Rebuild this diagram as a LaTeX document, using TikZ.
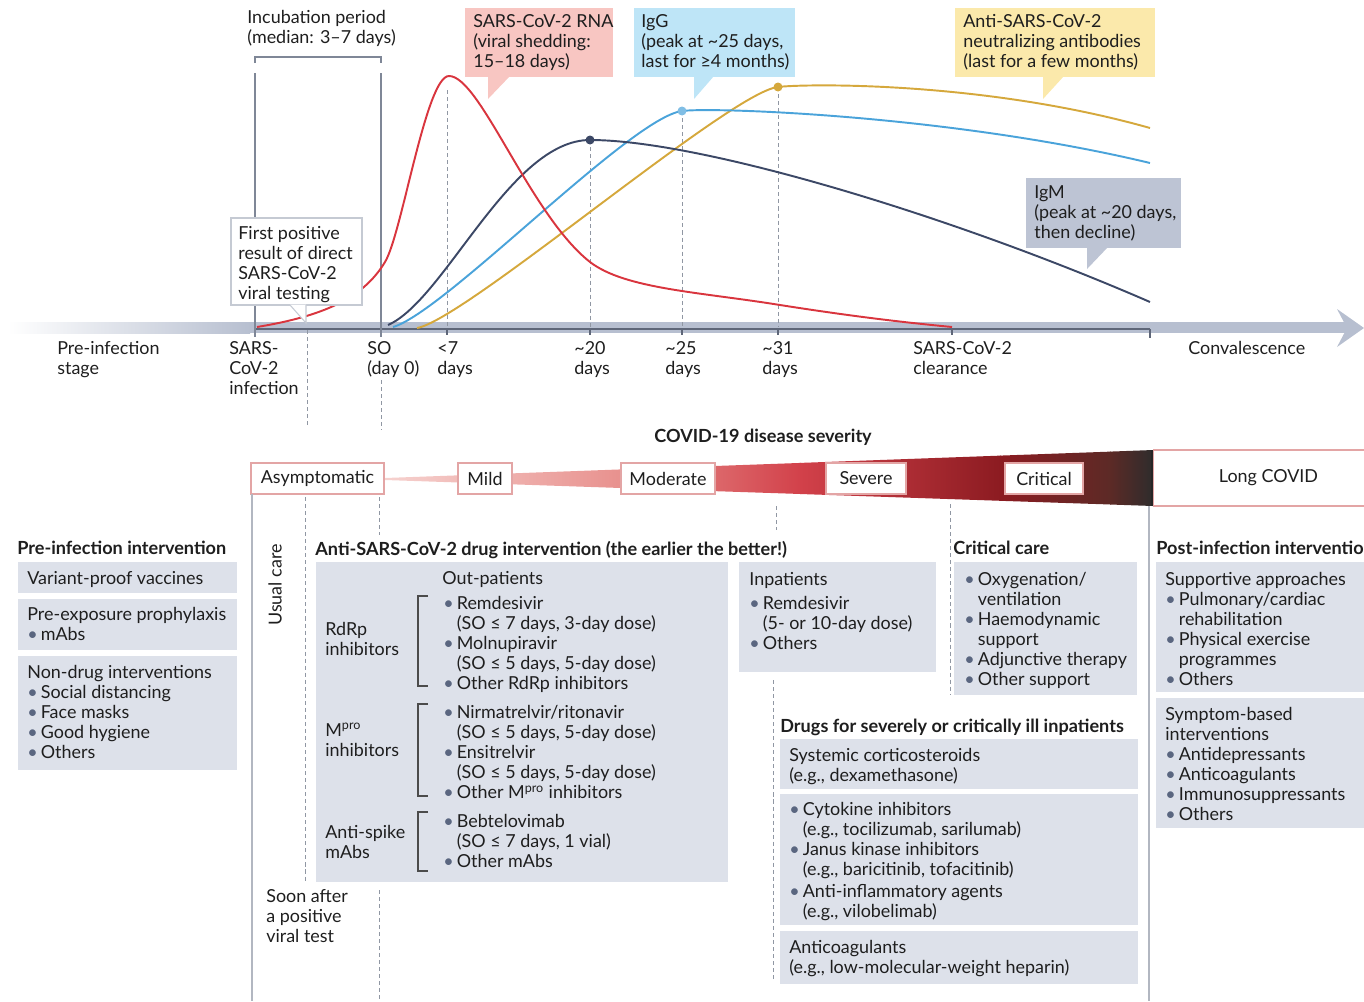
\documentclass[tikz,border=0pt]{standalone}
\usepackage{fontspec}
\setmainfont{Lato}
\usetikzlibrary{positioning}
\definecolor{txtcol}{HTML}{1E1E1E}
\definecolor{bandcol}{HTML}{B7BFD0}
\definecolor{axiscol}{HTML}{5E6678}
\definecolor{vcol}{HTML}{7F8797}
\definecolor{dashcol}{HTML}{9097A3}
\definecolor{redc}{HTML}{D9353E}
\definecolor{navyc}{HTML}{3C4866}
\definecolor{bluec}{HTML}{4AA3DA}
\definecolor{goldc}{HTML}{D5A83C}
\definecolor{pinkbox}{HTML}{F8C6C2}
\definecolor{bluebox}{HTML}{BEE5F7}
\definecolor{yelbox}{HTML}{FBE9AB}
\definecolor{igmbox}{HTML}{BDC4D4}
\definecolor{panel}{HTML}{DDE1EA}
\definecolor{sevline}{HTML}{E3A5A5}
\definecolor{bulcol}{HTML}{5A6680}
\definecolor{calline}{HTML}{C5CAD3}
\definecolor{sevA}{HTML}{F6D2CF}
\definecolor{sevB}{HTML}{E8918E}
\definecolor{sevC}{HTML}{D2414A}
\definecolor{sevD}{HTML}{8C1B21}
\definecolor{sevE}{HTML}{5C2A26}
\definecolor{sevF}{HTML}{2E2C2C}
\newcommand{\bul}{\makebox[0.27cm][l]{\textcolor{bulcol}{\textbullet}}}
\newcommand{\ind}{\hspace*{0.27cm}}
\newcommand{\Mpro}{M\textsuperscript{pro}}
\tikzset{
  txt/.style={font=\fontsize{10.2}{11.4}\selectfont, text=txtcol, inner sep=0pt, align=left, anchor=north west},
  hd/.style={txt, font=\fontsize{10.3}{11.4}\selectfont\bfseries},
  sevbox/.style={draw=sevline, fill=white, line width=0.6pt, minimum height=0.62cm, inner sep=0pt,
    font=\fontsize{10.2}{11.4}\selectfont, text=txtcol},
  curve/.style={line width=1.1pt},
  guide/.style={dashcol, line width=0.5pt, dash pattern=on 2.3pt off 1.7pt},
}
\begin{document}
\begin{tikzpicture}[x=0.02cm,y=-0.02cm]
\useasboundingbox (0,0) rectangle (1364,1001);
% time axis
\shade[left color=white, right color=bandcol] (8,322) rectangle (250,333);
\fill[bandcol] (249,322) rectangle (1348,333);
\fill[bandcol] (1337,309) -- (1364,328) -- (1337,347) -- (1347,328) -- cycle;
\draw[axiscol, line width=0.8pt] (255,329) -- (1150,329);
\foreach \t in {447,590,682,778,952} \draw[axiscol, line width=0.8pt] (\t,329) -- (\t,335);
\draw[axiscol, line width=0.8pt] (1150,329) -- (1150,338);
% incubation bracket
\draw[vcol, line width=0.6pt] (255,63) -- (255,57) -- (381,57) -- (381,63);
\draw[vcol, line width=0.8pt] (255,73) -- (255,337);
\draw[vcol, line width=0.8pt] (381,73) -- (381,337);
\foreach \t/\y in {447/90,590/140,682/111,778/87} \draw[guide] (\t,\y) -- (\t,327);
\draw[guide] (307,330) -- (307,425);
\draw[guide] (381,380) -- (381,430);
% curves
\draw[curve, goldc] (417,328) .. controls (465,320) and (730,92) .. (778,87)
  .. controls (800,84) and (980,80) .. (1150,128);
\draw[curve, bluec] (393,327) .. controls (445,312) and (630,118) .. (682,111)
  .. controls (712,107) and (950,115) .. (1150,163);
\draw[curve, navyc] (388,325) .. controls (445,300) and (510,140) .. (590,140)
  .. controls (700,140) and (950,215) .. (1150,302);
\draw[curve, redc] (257,327) .. controls (330,315) and (365,295) .. (385,262)
  .. controls (402,234) and (426,76) .. (449,76)
  .. controls (480,76) and (530,215) .. (590,262)
  .. controls (625,289) and (700,292) .. (780,305)
  .. controls (850,316) and (900,322) .. (952,327);
\fill[navyc] (590,140) circle[radius=0.09cm];
\fill[bluec!70] (682,111) circle[radius=0.09cm];
\fill[goldc] (778,87) circle[radius=0.09cm];
% callouts
\fill[pinkbox] (465,8) rectangle (613,77);
\fill[pinkbox] (488,76) -- (510,76) -- (488,99) -- cycle;
\node[txt] (rna) at (473,14) {SARS-CoV-2 RNA\\(viral shedding:\\15–18 days)};
\fill[bluebox] (634,8) rectangle (795,77);
\fill[bluebox] (694,76) -- (714,76) -- (694,99) -- cycle;
\node[txt] (igg) at (641,14) {IgG\\(peak at \textasciitilde25 days,\\last for ≥4 months)};
\fill[yelbox] (955,8) rectangle (1155,77);
\fill[yelbox] (1043,76) -- (1064,76) -- (1043,99) -- cycle;
\node[txt] (nab) at (963,14) {Anti-SARS-CoV-2\\neutralizing antibodies\\(last for a few months)};
\fill[igmbox] (1026,178) rectangle (1181,248);
\fill[igmbox] (1087,247) -- (1108,247) -- (1087,269) -- cycle;
\node[txt] (igm) at (1034,185) {IgM\\(peak at \textasciitilde20 days,\\then decline)};
\draw[calline, fill=white, line width=0.6pt] (231,218) rectangle (362,305);
\fill[white] (290,304.5) -- (306,323) -- (306,304.5) -- cycle;
\draw[calline, line width=0.6pt] (290,305) -- (306,323) -- (306,305);
\node[txt] (fpos) at (238,226) {First positive\\result of direct\\SARS-CoV-2\\viral testing};
\node[txt] (inc) at (247,10) {Incubation period\\(median: 3–7 days)};
% axis labels
\node[txt] (preinf) at (57,341) {Pre-infection\\stage};
\node[txt] (sarsinf) at (229,341) {SARS-\\CoV-2\\infection};
\node[txt] (so) at (367,341) {SO\\(day 0)};
\node[txt] (d7) at (437,341) {<7\\days};
\node[txt] (d20) at (574,341) {\textasciitilde20\\days};
\node[txt] (d25) at (665,341) {\textasciitilde25\\days};
\node[txt] (d31) at (762,341) {\textasciitilde31\\days};
\node[txt] (clear) at (913,341) {SARS-CoV-2\\clearance};
\node[txt] (conv) at (1188,341) {Convalescence};
% severity
\node[hd, anchor=center] (sevtitle) at (763,437) {COVID-19 disease severity};
\shade[left color=sevA, right color=sevB] (385,478) -- (621,469.4) -- (621,488) -- (385,480) -- cycle;
\shade[left color=sevB, right color=sevC] (620,469.4) -- (801,462.9) -- (801,494) -- (620,488) -- cycle;
\shade[left color=sevC, right color=sevD] (800,462.9) -- (1001,455.6) -- (1001,500.8) -- (800,494) -- cycle;
\shade[left color=sevD, right color=sevE] (1000,455.6) -- (1111,451.6) -- (1111,504.5) -- (1000,500.8) -- cycle;
\shade[left color=sevE, right color=sevF] (1110,451.6) -- (1153,450) -- (1153,506) -- (1110,504.5) -- cycle;
\draw[black!85, line width=1pt] (1152,450) -- (1152,506);
\node[sevbox, minimum width=2.66cm] (asym) at (317.5,478.5) {Asymptomatic};
\node[sevbox, minimum width=1.08cm] (mild) at (485,478.5) {Mild};
\node[sevbox, minimum width=1.88cm] (moder) at (668,478.5) {Moderate};
\node[sevbox, minimum width=1.6cm] (sev) at (866,478.5) {Severe};
\node[sevbox, minimum width=1.56cm] (crit) at (1044,478.5) {Critical};
\node[sevbox, minimum width=4.6cm, minimum height=1.12cm, anchor=west] (longc) at (1153,478) {Long COVID};
% separators
\draw[vcol!60, line width=0.6pt] (252,494) -- (252,1001);
\draw[vcol!60, line width=0.6pt] (1149,506) -- (1149,1001);
\draw[guide] (305,497) -- (305,882);
\draw[guide] (379,497) -- (379,535);
\draw[guide] (379,890) -- (379,1001);
\draw[guide] (776,506) -- (776,530);
\draw[guide] (773,680) -- (773,982);
\draw[guide] (950,504) -- (950,695);
% pre-infection
\node[hd] (preh) at (17,541) {Pre-infection intervention};
\fill[panel] (18,562) rectangle (237,593);
\fill[panel] (18,599) rectangle (237,650);
\fill[panel] (18,656) rectangle (237,770);
\node[txt] (vacc) at (27,571) {Variant-proof vaccines};
\node[txt] (prep) at (27,607) {Pre-exposure prophylaxis\\\bul mAbs};
\node[txt] (nondrug) at (27,665) {Non-drug interventions\\\bul Social distancing\\\bul Face masks\\\bul Good hygiene\\\bul Others};
\node[txt, anchor=center, rotate=90] (usual) at (275,585) {Usual care};
\node[txt] (soon) at (266,889) {Soon after\\a positive\\viral test};
% anti-SARS-CoV-2 drugs
\node[hd] (anth) at (315,541) {Anti-SARS-CoV-2 drug intervention (the earlier the better!)};
\fill[panel] (316,562) rectangle (728,882);
\node[txt] (outp) at (442,571) {Out-patients};
\node[txt] (rdrp) at (325,622) {RdRp\\inhibitors};
\node[txt] (mpro) at (325,723) {\Mpro\\inhibitors};
\node[txt] (spike) at (325,825) {Anti-spike\\mAbs};
\draw[txtcol!80, line width=0.6pt] (428,596) -- (418,596) -- (418,686) -- (428,686);
\draw[txtcol!80, line width=0.6pt] (428,704) -- (418,704) -- (418,796) -- (428,796);
\draw[txtcol!80, line width=0.6pt] (428,812) -- (418,812) -- (418,871) -- (428,871);
\node[txt] (rdrplist) at (443,596) {\bul Remdesivir\\\ind (SO ≤ 7 days, 3-day dose)\\\bul Molnupiravir\\\ind (SO ≤ 5 days, 5-day dose)\\\bul Other RdRp inhibitors};
\node[txt] (mprolist) at (443,705) {\bul Nirmatrelvir/ritonavir\\\ind (SO ≤ 5 days, 5-day dose)\\\bul Ensitrelvir\\\ind (SO ≤ 5 days, 5-day dose)\\\bul Other \Mpro{} inhibitors};
\node[txt] (spikelist) at (443,814) {\bul Bebtelovimab\\\ind (SO ≤ 7 days, 1 vial)\\\bul Other mAbs};
\fill[panel] (739,562) rectangle (936,672);
\node[txt] (inp) at (749,572) {Inpatients\\[0.08cm]\bul Remdesivir\\\ind (5- or 10-day dose)\\\bul Others};
% critical care
\node[hd] (crith) at (953,541) {Critical care};
\fill[panel] (954,562) rectangle (1137,695);
\node[txt] (critlist) at (964,572) {\bul Oxygenation/\\\ind ventilation\\\bul Haemodynamic\\\ind support\\\bul Adjunctive therapy\\\bul Other support};
% severely ill
\node[hd] (drugh) at (780,719) {Drugs for severely or critically ill inpatients};
\fill[panel] (780,739) rectangle (1138,789);
\fill[panel] (780,794) rectangle (1138,925);
\fill[panel] (780,931) rectangle (1138,984);
\node[txt] (cortic) at (789,748) {Systemic corticosteroids\\(e.g., dexamethasone)};
\node[txt] (cytok) at (789,802) {\bul Cytokine inhibitors\\\ind (e.g., tocilizumab, sarilumab)\\\bul Janus kinase inhibitors\\\ind (e.g., baricitinib, tofacitinib)\\[0.03cm]\bul Anti-inflammatory agents\\\ind (e.g., vilobelimab)};
\node[txt] (anticoag) at (789,940) {Anticoagulants\\(e.g., low-molecular-weight heparin)};
% post-infection
\node[hd] (posth) at (1156,541) {Post-infection intervention};
\fill[panel] (1156,562) rectangle (1370,692);
\fill[panel] (1156,698) rectangle (1370,828);
\node[txt] (support) at (1165,572) {Supportive approaches\\\bul Pulmonary/cardiac\\\ind rehabilitation\\\bul Physical exercise\\\ind programmes\\\bul Others};
\node[txt] (symptom) at (1165,707) {Symptom-based\\interventions\\\bul Antidepressants\\\bul Anticoagulants\\\bul Immunosuppressants\\\bul Others};
\end{tikzpicture}
\end{document}
